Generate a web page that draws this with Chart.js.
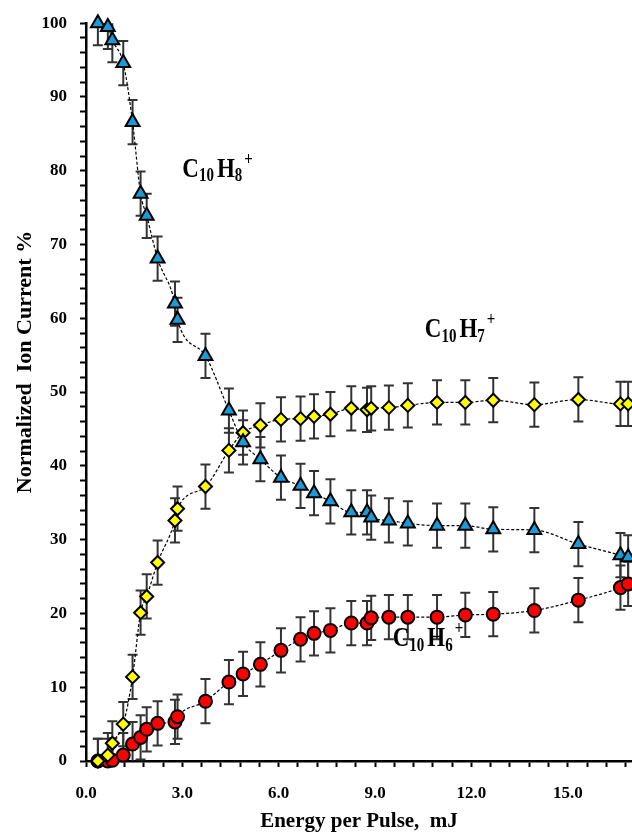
<!DOCTYPE html>
<html>
<head>
<meta charset="utf-8">
<script src="https://cdn.jsdelivr.net/npm/chart.js@4"></script>
<style>
  html, body { margin: 0; padding: 0; background: #fff; }
  #wrap { width: 632px; height: 834px; position: relative; }
</style>
</head>
<body>
<div id="wrap"><canvas id="ionChart"></canvas></div>
<script>
// energy per pulse (mJ), shared by all three ions
const energy = [0.37, 0.68, 0.82, 1.16, 1.45, 1.70, 1.89, 2.23, 2.77, 2.85,
  3.72, 4.45, 4.89, 5.43, 6.07, 6.68, 7.10, 7.61, 8.26, 8.75,
  8.88, 9.43, 10.02, 10.93, 11.81, 12.68, 13.96, 15.33, 16.64, 16.88];

// normalized ion current %
const h8Ion = [100, 99.5, 97.7, 94.6, 86.6, 76.9, 73.9, 68.1, 62.0, 59.8,
  54.9, 47.5, 43.2, 40.9, 38.4, 37.3, 36.3, 35.2, 33.7, 33.7,
  33.0, 32.6, 32.2, 31.9, 31.9, 31.4, 31.3, 29.4, 27.9, 27.6];
const h7Ion = [0, 0.8, 2.4, 5.0, 11.4, 20.1, 22.3, 26.9, 32.6, 34.2,
  37.2, 42.1, 44.5, 45.5, 46.3, 46.4, 46.7, 47.0, 47.8, 47.6,
  47.8, 47.9, 48.2, 48.6, 48.6, 48.9, 48.3, 49.0, 48.4, 48.4];
const h6Ion = [0, 0, 0.1, 0.8, 2.3, 3.2, 4.3, 5.1, 5.3, 6.0,
  8.1, 10.7, 11.8, 13.1, 15.0, 16.5, 17.3, 17.7, 18.7, 18.7,
  19.4, 19.5, 19.5, 19.5, 19.8, 19.9, 20.4, 21.8, 23.5, 24.0];

// error bars (+/-)
const errH8 = [3, 3, 3, 3, 3, 3, 3, 3, 3, 3, 3, 3, 3, 3, 3, 3, 3, 3, 3, 3, 3, 3, 3, 3, 3, 3, 3, 3, 3, 3];
const errH7 = [3, 3, 3, 3, 3, 3, 3, 3, 3, 3, 3, 3, 3, 3, 3, 3, 3, 3, 3, 3, 3, 3, 3, 3, 3, 3, 3, 3, 3, 3];
const errH6 = [3, 3, 3, 3, 3, 3, 3, 3, 3, 3, 3, 3, 3, 3, 3, 3, 3, 3, 3, 3, 3, 3, 3, 3, 3, 3, 3, 3, 3, 3];

const xMajor = [0, 3, 6, 9, 12, 15];
const yMajor = [0, 10, 20, 30, 40, 50, 60, 70, 80, 90, 100];

const serif = '"Liberation Serif", "Times New Roman", serif';

function pts(vals) {
  return energy.map((e, i) => ({ x: e, y: vals[i] }));
}

function isMajor(list, v) {
  return list.some(m => Math.abs(m - v) < 1e-6);
}

const errorBars = {
  id: "errorBars",
  beforeDatasetsDraw(chart) {
    const { ctx, chartArea, scales } = chart;
    ctx.save();
    ctx.beginPath();
    ctx.rect(chartArea.left, chartArea.top, chartArea.right - chartArea.left, chartArea.bottom - chartArea.top);
    ctx.clip();
    ctx.strokeStyle = "#333";
    ctx.lineWidth = 2;
    chart.data.datasets.forEach((ds, i) => {
      const meta = chart.getDatasetMeta(i);
      meta.data.forEach((p, j) => {
        const v = ds.data[j].y;
        const e = ds.errors[j];
        const top = scales.y.getPixelForValue(v + e);
        const bot = scales.y.getPixelForValue(v - e);
        ctx.beginPath();
        ctx.moveTo(p.x, top); ctx.lineTo(p.x, bot);
        ctx.moveTo(p.x - 5, top); ctx.lineTo(p.x + 5, top);
        ctx.moveTo(p.x - 5, bot); ctx.lineTo(p.x + 5, bot);
        ctx.stroke();
      });
    });
    ctx.restore();
  }
};

// C10 Hn + labels, drawn a little taller than wide like the original
function drawFormula(ctx, x, y, n) {
  ctx.save();
  ctx.translate(x, y);
  ctx.scale(1, 1.2);
  let cx = 0;
  const big = "bold 23px " + serif;
  const small = "bold 15px " + serif;
  ctx.textBaseline = "alphabetic";
  ctx.textAlign = "left";
  ctx.font = big; ctx.fillText("C", cx, 0); cx += ctx.measureText("C").width;
  ctx.font = small; ctx.fillText("10", cx, 4); cx += ctx.measureText("10").width + 3;
  ctx.font = big; ctx.fillText("H", cx, 0); cx += ctx.measureText("H").width;
  ctx.font = small; ctx.fillText(n, cx, 4); cx += ctx.measureText(n).width + 2;
  ctx.fillText("+", cx, -10);
  ctx.restore();
}

const labels = {
  id: "labels",
  afterDraw(chart) {
    const { ctx, scales: { x, y } } = chart;
    ctx.save();
    ctx.fillStyle = "#000";
    drawFormula(ctx, x.getPixelForValue(3.0), y.getPixelForValue(79.2), "8");
    drawFormula(ctx, x.getPixelForValue(10.55), y.getPixelForValue(57.5), "7");
    drawFormula(ctx, x.getPixelForValue(9.55), y.getPixelForValue(15.6), "6");

    ctx.font = "bold 21px " + serif;
    ctx.textAlign = "center";
    ctx.textBaseline = "alphabetic";
    ctx.fillText("Energy per Pulse,  mJ", (chart.chartArea.left + chart.chartArea.right) / 2, 827);

    ctx.font = "bold 22px " + serif;
    ctx.translate(31, 362);
    ctx.rotate(-Math.PI / 2);
    ctx.fillText("Normalized  Ion Current %", 0, 0);
    ctx.restore();
  }
};

function series(label, vals, errs, style, color, radius) {
  return {
    label: label,
    data: pts(vals),
    errors: errs,
    borderColor: "#000",
    borderWidth: 1.2,
    borderDash: [3, 2],
    cubicInterpolationMode: "monotone",
    pointStyle: style,
    pointRadius: radius,
    pointHoverRadius: radius,
    pointBackgroundColor: color,
    pointBorderColor: "#000",
    pointBorderWidth: 2,
    clip: false,
    fill: false
  };
}

new Chart(document.getElementById("ionChart"), {
  type: "line",
  data: {
    datasets: [
      series("C10H8+", h8Ion, errH8, "triangle", "#1b9ad6", 8),
      series("C10H7+", h7Ion, errH7, "rectRot", "#ffff00", 6.5),
      series("C10H6+", h6Ion, errH6, "circle", "#ff0000", 6.5)
    ]
  },
  options: {
    responsive: true,
    maintainAspectRatio: false,
    animation: false,
    events: [],
    layout: { autoPadding: false, padding: { top: 22, right: 0, left: 0, bottom: 0 } },
    plugins: {
      legend: { display: false },
      tooltip: { enabled: false }
    },
    scales: {
      x: {
        type: "linear",
        min: 0,
        max: 17,
        afterFit: s => { s.height = 73; s.paddingRight = 0; s.paddingLeft = 0; },
        border: { display: true, color: "#000", width: 2.5 },
        grid: { drawOnChartArea: false, drawTicks: true, tickLength: 6, tickColor: "#000", tickWidth: 2 },
        ticks: {
          stepSize: 0.6,
          includeBounds: false,
          autoSkip: false,
          maxRotation: 0,
          padding: 16,
          color: "#000",
          font: { family: serif, size: 17, weight: "bold" },
          callback: v => isMajor(xMajor, v) ? v.toFixed(1) : ""
        }
      },
      y: {
        min: 0,
        max: 100,
        afterFit: s => { s.width = 86; },
        border: { display: true, color: "#000", width: 2.5 },
        grid: { drawOnChartArea: false, drawTicks: true, tickLength: 6, tickColor: "#000", tickWidth: 2 },
        ticks: {
          stepSize: 2,
          autoSkip: false,
          padding: 13,
          color: "#000",
          font: { family: serif, size: 17, weight: "bold" },
          callback: v => isMajor(yMajor, v) ? String(v) : ""
        }
      }
    }
  },
  plugins: [errorBars, labels]
});
</script>
</body>
</html>
